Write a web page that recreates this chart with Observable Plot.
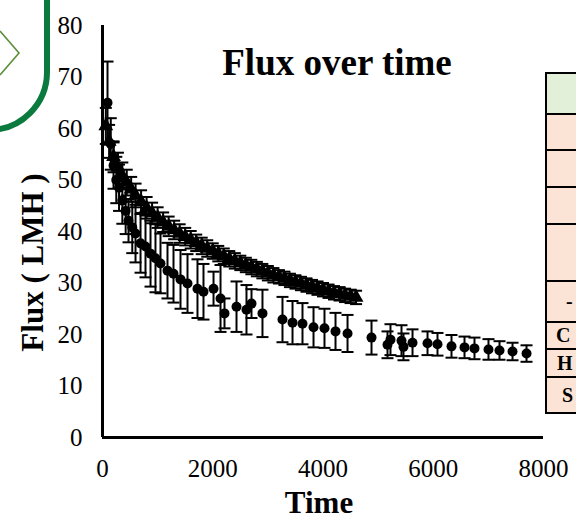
<!DOCTYPE html>
<html>
<head>
<meta charset="utf-8">
<script src="https://cdn.jsdelivr.net/npm/d3@7"></script>
<script src="https://cdn.jsdelivr.net/npm/@observablehq/plot@0.6"></script>
<style>
  html, body { margin: 0; padding: 0; background: #fff; }
  #wrap { position: relative; width: 576px; height: 519px; overflow: hidden; background: #fff; }
  #wrap > svg.deco { position: absolute; left: 0; top: 0; }
  #chart { position: absolute; left: 0; top: 0; }
</style>
</head>
<body>
<div id="wrap">
  <svg class="deco" width="576" height="519" viewBox="0 0 576 519">
    <path d="M47,0 V72 A58,58 0 0 1 -11,130" fill="none" stroke="#0b7a3e" stroke-width="6"/>
    <path d="M0,31 L19,53 L0,75" fill="none" stroke="#5b8f3a" stroke-width="1.6"/>
    <g stroke="#000" stroke-width="2">
      <rect x="546" y="73" width="40" height="41" fill="#e2efd9"/>
      <rect x="546" y="114" width="40" height="36" fill="#fbe4d5"/>
      <rect x="546" y="150" width="40" height="37" fill="#fbe4d5"/>
      <rect x="546" y="187" width="40" height="37" fill="#fbe4d5"/>
      <rect x="546" y="224" width="40" height="57" fill="#fbe4d5"/>
      <rect x="546" y="281" width="40" height="41" fill="#fbe4d5"/>
      <rect x="546" y="322" width="40" height="27" fill="#fbe4d5"/>
      <rect x="546" y="349" width="40" height="28" fill="#fbe4d5"/>
      <rect x="546" y="377" width="40" height="36" fill="#fbe4d5"/>
    </g>
    <g font-family="'Liberation Serif','Times New Roman',serif" font-weight="bold" font-size="20" fill="#000">
      <text x="566" y="308">-</text>
      <text x="556" y="342">C</text>
      <text x="557" y="370">H</text>
      <text x="562" y="402">S</text>
    </g>
  </svg>
  <div id="chart"></div>
</div>
<script>
// Circle series (with large error bars)
const circleTime = [91, 150, 200, 250, 300, 360, 420, 472, 540, 599, 690, 780, 871, 961, 1052, 1179, 1288, 1415, 1542, 1723, 1832, 2014, 2141, 2213, 2431, 2612, 2703, 2902, 3265, 3447, 3628, 3828, 4027, 4227, 4445, 4880, 5170, 5224, 5424, 5460, 5624, 5896, 6077, 6331, 6567, 6748, 7002, 7202, 7438, 7692];
const circleFlux = [65, 57, 52.8, 50, 48.5, 46, 44, 42.1, 40.8, 39.6, 37.7, 37.1, 35.7, 34.8, 33.8, 32.4, 31.8, 30.7, 29.9, 28.9, 28.3, 28.9, 27.0, 24.1, 25.4, 24.8, 26.0, 24.1, 22.9, 22.3, 22.1, 21.4, 21.2, 20.6, 20.2, 19.4, 18.0, 19.0, 18.8, 17.6, 18.4, 18.3, 18.1, 17.7, 17.5, 17.3, 17.1, 16.9, 16.7, 16.3];
const circleErr = [8, 5, 4.5, 4.5, 4.5, 4.5, 4.5, 4.2, 5, 5.6, 5.7, 6, 6.4, 6.6, 5.8, 5.4, 5.6, 5.7, 5.7, 5.7, 5.4, 3.3, 6.5, 2.9, 4.9, 4.8, 2.8, 4.6, 4.4, 4.2, 4, 3.9, 3.8, 3.6, 3.6, 3.3, 2.6, 3, 3, 2.6, 2.6, 2.3, 2.2, 2.2, 2.1, 2.1, 2, 1.8, 1.7, 1.6];

// Triangle series
const triTime = [60, 120, 200, 280, 360, 440, 520, 600, 700, 800, 900, 1000, 1100, 1200, 1300, 1400, 1500, 1600, 1700, 1800, 1900, 2000, 2100, 2200, 2300, 2400, 2500, 2600, 2700, 2800, 2900, 3000, 3100, 3200, 3300, 3400, 3500, 3600, 3700, 3800, 3900, 4000, 4100, 4200, 4300, 4400, 4500, 4600];
const triFlux = [60.5, 57.5, 54.5, 52.5, 50.8, 49.5, 48.2, 47.0, 45.8, 44.6, 43.6, 42.7, 41.8, 41.0, 40.3, 39.6, 39.0, 38.4, 37.8, 37.2, 36.7, 36.2, 35.7, 35.2, 34.7, 34.3, 33.9, 33.5, 33.1, 32.7, 32.3, 31.9, 31.5, 31.2, 30.9, 30.5, 30.2, 29.9, 29.6, 29.3, 29.0, 28.7, 28.4, 28.1, 27.9, 27.6, 27.4, 27.2];
const triErr = [3.5, 3.2, 3, 2.8, 2.6, 2.5, 2.4, 2.3, 2.2, 2.1, 2, 2, 1.9, 1.9, 1.8, 1.8, 1.7, 1.7, 1.6, 1.6, 1.6, 1.5, 1.5, 1.5, 1.5, 1.5, 1.4, 1.4, 1.4, 1.4, 1.4, 1.4, 1.4, 1.3, 1.3, 1.3, 1.3, 1.3, 1.3, 1.3, 1.3, 1.3, 1.3, 1.3, 1.3, 1.3, 1.3, 1.3];

const xTicks = [0, 2000, 4000, 6000, 8000];
const yTicks = [0, 10, 20, 30, 40, 50, 60, 70, 80];
const titleText = "Flux over time";
const xLabel = "Time";
const yLabel = "Flux ( LMH )";

const circles = circleTime.map((t, i) => ({t, y: circleFlux[i], e: circleErr[i]}));
const tris = triTime.map((t, i) => ({t, y: triFlux[i], e: triErr[i]}));

const cap = { draw(ctx) { ctx.moveTo(-6, 0); ctx.lineTo(6, 0); } };
const serif = "'Liberation Serif','Times New Roman',serif";

function errMarks(data) {
  return [
    Plot.ruleX(data, {x: "t", y1: d => d.y - d.e, y2: d => d.y + d.e, stroke: "#000", strokeWidth: 2}),
    Plot.dot(data, {x: "t", y: d => d.y + d.e, symbol: cap, stroke: "#000", strokeWidth: 2, fill: "none"}),
    Plot.dot(data, {x: "t", y: d => d.y - d.e, symbol: cap, stroke: "#000", strokeWidth: 2, fill: "none"})
  ];
}

const chart = Plot.plot({
  width: 576,
  height: 519,
  marginLeft: 102,
  marginRight: 33,
  marginTop: 25,
  marginBottom: 82,
  style: {fontFamily: serif, fontSize: "25px", color: "#000", background: "transparent", overflow: "visible"},
  x: {domain: [0, 8000], ticks: xTicks, tickSize: 0, tickPadding: 22, tickFormat: d => String(d), label: null},
  y: {domain: [0, 80], ticks: yTicks, tickSize: 0, tickPadding: 20, tickFormat: d => String(d), label: null},
  marks: [
    ...errMarks(circles),
    Plot.dot(circles, {x: "t", y: "y", r: 5, fill: "#000", stroke: "none"}),
    ...errMarks(tris),
    Plot.dot(tris, {x: "t", y: "y", symbol: "triangle", r: 5.5, fill: "#000", stroke: "none"}),
    Plot.ruleY([0], {stroke: "#000", strokeWidth: 3}),
    Plot.ruleX([0], {stroke: "#000", strokeWidth: 3}),
    Plot.text([titleText], {text: d => d, frameAnchor: "top", dx: 14, dy: 38, lineAnchor: "middle", fontSize: 37, fontWeight: "bold", fontFamily: serif, fill: "#000"}),
    Plot.text([xLabel], {text: d => d, frameAnchor: "bottom", dx: -4, dy: 66, lineAnchor: "middle", fontSize: 31, fontWeight: "bold", fontFamily: serif, fill: "#000"}),
    Plot.text([yLabel], {text: d => d, frameAnchor: "left", textAnchor: "middle", dx: -69, dy: 31, rotate: -90, lineAnchor: "middle", fontSize: 31, fontWeight: "bold", fontFamily: serif, fill: "#000"})
  ]
});
document.getElementById("chart").appendChild(chart);
</script>
</body>
</html>
